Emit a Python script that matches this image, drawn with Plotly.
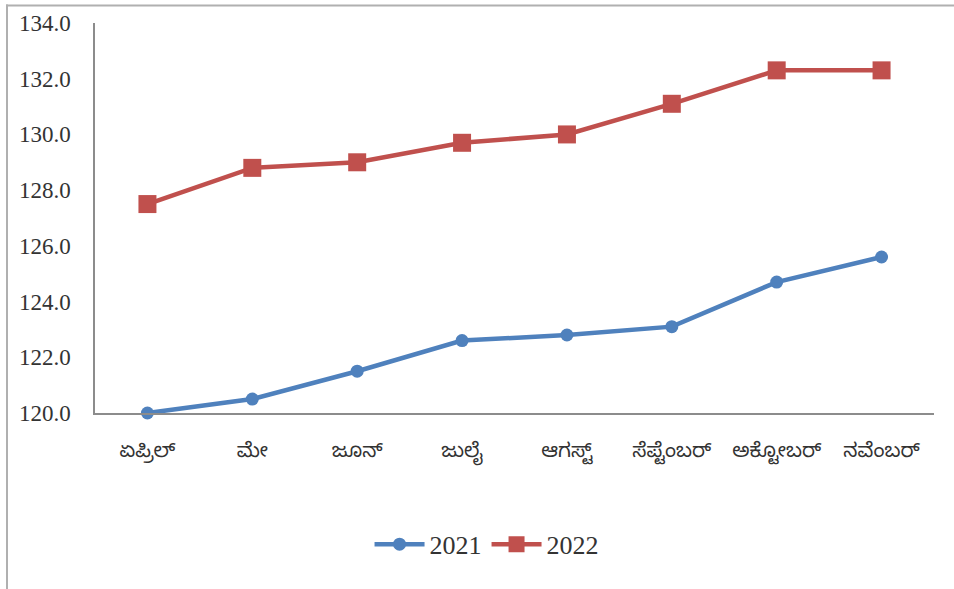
import plotly.graph_objects as go

months = ["ಏಪ್ರಿಲ್", "ಮೇ", "ಜೂನ್", "ಜುಲೈ", "ಆಗಸ್ಟ್", "ಸೆಪ್ಟೆಂಬರ್", "ಅಕ್ಟೋಬರ್", "ನವೆಂಬರ್"]
series_2021 = [120.0, 120.5, 121.5, 122.6, 122.8, 123.1, 124.7, 125.6]
series_2022 = [127.5, 128.8, 129.0, 129.7, 130.0, 131.1, 132.3, 132.3]
y_ticks = [120, 122, 124, 126, 128, 130, 132, 134]

W, H = 954, 589
ml, mr, mt, mb = 95, 20, 23, 176

fig = go.Figure()
fig.add_trace(go.Scatter(
    x=months, y=series_2021, name="2021", mode="lines+markers", cliponaxis=False,
    line=dict(color="#4F81BD", width=4.5),
    marker=dict(symbol="circle", size=13, color="#4F81BD"),
))
fig.add_trace(go.Scatter(
    x=months, y=series_2022, name="2022", mode="lines+markers", cliponaxis=False,
    line=dict(color="#C0504D", width=4.5),
    marker=dict(symbol="square", size=18, color="#C0504D"),
))

pw = W - ml - mr
ph = H - mt - mb
# outer chart frame (top and left edges visible)
fig.add_shape(type="line", xref="paper", yref="paper",
              x0=(6 - ml) / pw, x1=(W + 10 - ml) / pw,
              y0=(H - 5.5 - mb) / ph, y1=(H - 5.5 - mb) / ph,
              line=dict(color="#B0B0B0", width=2))
fig.add_shape(type="line", xref="paper", yref="paper",
              x0=(7 - ml) / pw, x1=(7 - ml) / pw,
              y0=(H - 4.5 - mb) / ph, y1=(-10 - mb) / ph,
              line=dict(color="#B0B0B0", width=2))

fig.update_layout(
    width=W, height=H,
    margin=dict(l=ml, r=mr, t=mt, b=mb, autoexpand=False),
    paper_bgcolor="white", plot_bgcolor="white",
    font=dict(family="Liberation Serif, Times New Roman, serif", color="#333333"),
    showlegend=True,
    legend=dict(orientation="h", xref="container", yref="container",
                x=0.51, y=0.076, xanchor="center", yanchor="middle",
                font=dict(size=26, family="Liberation Serif, serif", color="#333333"),
                itemwidth=50, traceorder="normal"),
    xaxis=dict(
        type="category", showgrid=False, zeroline=False, automargin=False,
        showline=True, linecolor="#8C8C8C", linewidth=1.5,
        ticks="", ticklabelstandoff=18,
        tickfont=dict(size=20, family="Noto Sans Kannada, Noto Serif Kannada, Lohit Kannada, Noto Sans, sans-serif", color="#333333"),
        range=[-0.5, 7.5],
    ),
    yaxis=dict(
        range=[120, 134], tickvals=y_ticks, automargin=False,
        ticktext=[f"{v:.1f}" for v in y_ticks],
        showgrid=False, zeroline=False,
        showline=True, linecolor="#8C8C8C", linewidth=1.5,
        ticks="", ticklabelstandoff=18,
        tickfont=dict(size=23, family="Liberation Serif, serif", color="#333333"),
    ),
)

fig.write_html("out.html", config={"displayModeBar": False},
               post_script="document.body.style.margin='0';")
